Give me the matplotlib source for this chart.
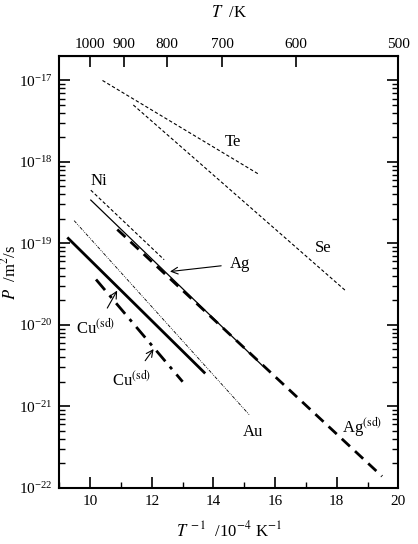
import matplotlib
matplotlib.use('Agg')
import matplotlib.pyplot as plt
from matplotlib.ticker import LogLocator, NullFormatter, MultipleLocator, NullLocator

plt.rcParams['font.family'] = ['Liberation Serif', 'DejaVu Serif']
plt.rcParams['mathtext.fontset'] = 'stix'
plt.rcParams['font.size'] = 11

# line end points: 1/T in 1e-4 K^-1, P in m^2/s
te_x = [10.40, 15.46]
te_p = [1.0e-17, 7.1e-19]
se_x = [11.40, 18.30]
se_p = [5.0e-18, 2.6e-20]
ni_x = [10.02, 12.40]
ni_p = [4.5e-19, 6.3e-20]
ag_x = [10.02, 15.57]
ag_p = [3.4e-19, 3.2e-21]
agsd_x = [10.88, 19.47]
agsd_p = [1.48e-19, 1.38e-22]
au_x = [9.48, 15.17]
au_p = [1.9e-19, 7.8e-22]
cu_x = [9.29, 13.70]
cu_p = [1.15e-19, 2.6e-21]
cusd_x = [10.19, 13.00]
cusd_p = [3.6e-20, 2.0e-21]

top_T = [1000, 900, 800, 700, 600, 500]

fig = plt.figure(figsize=(4.18, 5.44), dpi=100)
ax = fig.add_axes([0.142, 0.1035, 0.811, 0.7935])

ax.plot(te_x, te_p, color='black', lw=0.8, dashes=(3, 2))
ax.plot(se_x, se_p, color='black', lw=0.8, dashes=(3, 2))
ax.plot(ni_x, ni_p, color='black', lw=0.8, dashes=(3, 2))
ax.plot(ag_x, ag_p, color='black', lw=0.9)
ax.plot(agsd_x, agsd_p, color='black', lw=2.0, dashes=(4, 2.5))
ax.plot(au_x, au_p, color='black', lw=0.6, dashes=(4, 1.5, 1, 1.5, 1, 1.5))
ax.plot(cu_x, cu_p, color='black', lw=2.0)
ax.plot(cusd_x, cusd_p, color='black', lw=2.0, dashes=(5, 2.5, 1.2, 2.5))

ax.set_yscale('log')
ax.set_xlim(9, 20)
ax.set_ylim(1e-22, 10 ** -16.7)

fs = 12
ax.text(14.64, 10 ** -17.75, 'Te', ha='center', va='center', fontsize=fs)
ax.text(17.56, 10 ** -19.06, 'Se', ha='center', va='center', fontsize=fs)
ax.text(10.29, 10 ** -18.24, 'Ni', ha='center', va='center', fontsize=fs)
ax.text(15.29, 10 ** -21.32, 'Au', ha='center', va='center', fontsize=fs)
ax.annotate('Ag', xy=(12.5, 10 ** -19.35), xytext=(14.52, 10 ** -19.25),
            ha='left', va='center', fontsize=fs,
            arrowprops=dict(arrowstyle='->', color='black', lw=0.8, shrinkA=4))
ax.annotate(r'Cu$^{\mathrm{(sd)}}$', xy=(10.92, 10 ** -19.55), xytext=(10.19, 10 ** -20.04),
            ha='center', va='center', fontsize=fs,
            arrowprops=dict(arrowstyle='->', color='black', lw=0.8, shrinkA=6))
ax.annotate(r'Cu$^{\mathrm{(sd)}}$', xy=(12.11, 10 ** -20.27), xytext=(11.33, 10 ** -20.68),
            ha='center', va='center', fontsize=fs,
            arrowprops=dict(arrowstyle='->', color='black', lw=0.8, shrinkA=6))
ax.text(18.83, 10 ** -21.25, r'Ag$^{\mathrm{(sd)}}$', ha='center', va='center', fontsize=fs)

for s in ax.spines.values():
    s.set_linewidth(1.5)

ax.xaxis.set_major_locator(MultipleLocator(2))
ax.xaxis.set_minor_locator(MultipleLocator(1))
ax.yaxis.set_major_locator(LogLocator(base=10, numticks=20))
ax.yaxis.set_minor_locator(LogLocator(base=10, subs=range(2, 10), numticks=20))
ax.yaxis.set_minor_formatter(NullFormatter())
ax.tick_params(which='major', direction='in', length=8, width=1.2, right=True, labelsize=11)
ax.tick_params(which='minor', direction='in', length=4, width=1.0, right=True)
ax.tick_params(axis='x', which='both', top=False, pad=5)
ax.tick_params(axis='y', which='major', pad=5)

top = ax.secondary_xaxis('top', functions=(lambda x: 1e4 / x, lambda t: 1e4 / t))
top.set_xticks(top_T)
top.xaxis.set_minor_locator(NullLocator())
top.tick_params(direction='in', length=8, width=1.2, labelsize=11)
top.set_xticklabels([str(t) for t in top_T])
top.set_xlabel(r'$T$  /K', fontsize=12, labelpad=15)

ax.set_xlabel(r'$T^{\,-1}$  /10$^{-4}$ K$^{-1}$', fontsize=12, labelpad=9)
fig.text(0.022, 0.50, r'$P$  /m$^2$/s', rotation=90, ha='center', va='center', fontsize=12)

fig.savefig('out.png', dpi=100)
